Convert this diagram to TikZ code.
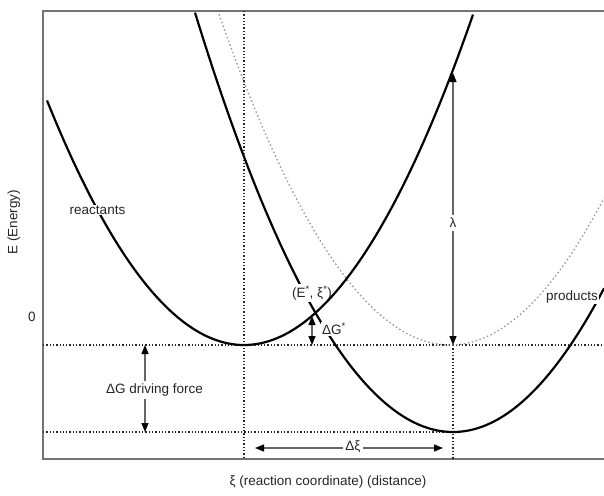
\documentclass[tikz,border=0pt]{standalone}
\usepackage{fontspec}
\setmainfont{Liberation Sans}
\usetikzlibrary{arrows.meta}
\begin{document}
\begin{tikzpicture}[x=1pt,y=-1pt,
  font=\fontsize{13.5}{16}\selectfont,
  frame/.style={draw=black!55, line width=2},
  curve/.style={black, line width=2.2},
  guide/.style={black!85, line width=1.3, dash pattern=on 1.3 off 2},
  ghost/.style={black!40, line width=1.3, dash pattern=on 1.5 off 2.5},
  dim/.style={black!60, line width=1.3,
    {Triangle[length=9,width=7,color=black]}-{Triangle[length=9,width=7,color=black]}},
  lbl/.style={fill=white, inner sep=1.5, text=black!85},
  txt/.style={inner sep=0, text=black!85}]
\useasboundingbox (0,0) rectangle (604,495);
% frame
\draw[frame] (604,11) -- (43,11) -- (43,459) -- (604,459);
% guides
\coordinate (gL1) at (43,345);  \coordinate (gR1) at (604,345);
\coordinate (gL2) at (43,432);  \coordinate (gR2) at (453,432);
\coordinate (vA1) at (244,11);  \coordinate (vA2) at (244,459);
\coordinate (vB1) at (453,345); \coordinate (vB2) at (453,459);
\draw[guide] (gL1) -- (gR1);
\draw[guide] (gL2) -- (gR2);
\draw[guide] (vA1) -- (vA2);
\draw[guide] (vB1) -- (vB2);
% unshifted products curve (dotted)
\draw[ghost] plot[domain=219:604, samples=120] (\x, {345-(0.07874*(\x-450))^2});
% shifted products curve
\draw[curve] plot[domain=195:604, samples=150] (\x, {432-(0.07937*(\x-453))^2});
\node[lbl] (Estar) at (312,293) {(E\textsuperscript{*}, ξ\textsuperscript{*})};
\node[lbl, inner sep=1] (dGstar) at (334,329) {ΔG\textsuperscript{*}};
\node[lbl, inner sep=1] (prod) at (572,297) {products};
% reactants curve
\draw[curve] plot[domain=47:473, samples=150] (\x, {345-(0.07937*(\x-244))^2});
\node[lbl, inner sep=1] (reac) at (97.5,210) {reactants};
% lambda
\coordinate (lamTop) at (453,73);
\coordinate (lamBot) at (453,345);
\draw[dim] (lamBot) -- (lamTop);
\node[lbl, inner sep=3] (lam) at (453,223) {λ};
% Delta G star
\coordinate (dsTop) at (312,316);
\coordinate (dsBot) at (312,345);
\draw[dim] (dsBot) -- (dsTop);
% driving force
\coordinate (dfTop) at (145,345);
\coordinate (dfBot) at (145,432);
\draw[dim] (dfBot) -- (dfTop);
\node[lbl, anchor=west, inner sep=3] (df) at (103,390) {ΔG driving force};
% Delta xi
\coordinate (dxL) at (255,448);
\coordinate (dxR) at (443,448);
\draw[dim] (dxL) -- (dxR);
\node[lbl, inner sep=2] (dx) at (353,447) {Δξ};
% axes labels
\node[txt] (zero) at (32,317) {0};
\node[txt, rotate=90] (ylab) at (14,222) {E (Energy)};
\node[txt] (xlab) at (328,482) {ξ (reaction coordinate) (distance)};
\end{tikzpicture}
\end{document}
